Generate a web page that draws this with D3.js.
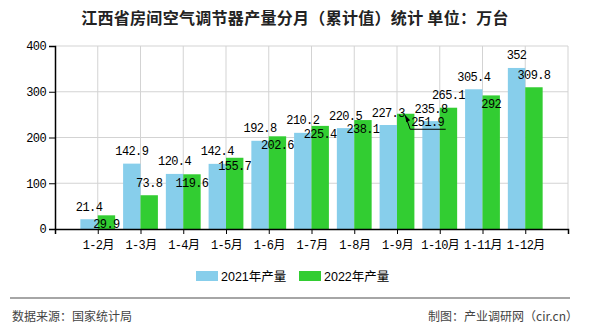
<!DOCTYPE html>
<html><head><meta charset="utf-8">
<script src="https://cdn.jsdelivr.net/npm/d3@7"></script>
<style>
html,body{margin:0;padding:0;background:#fff;}
svg{display:block;}
</style></head>
<body>
<svg id="c" width="590" height="330"></svg>
<script>
const categories = ["1-2月","1-3月","1-4月","1-5月","1-6月","1-7月","1-8月","1-9月","1-10月","1-11月","1-12月"];
const values2021 = [21.4,142.9,120.4,142.4,192.8,210.2,220.5,227.3,235.8,305.4,352];
const values2022 = [29.9,73.8,119.6,155.7,202.6,225.4,238.1,251.9,265.1,292,309.8];
const label2021 = ["21.4","142.9","120.4","142.4","192.8","210.2","220.5","227.3","235.8","305.4","352"];
const label2022 = ["29.9","73.8","119.6","155.7","202.6","225.4","238.1","251.9","265.1","292","309.8"];
const greenLabelSide = ["in","above","in","in","in","in","in","leader","above","in","above"];
const yTicks = [0,100,200,300,400];
const seriesNames = ["2021年产量","2022年产量"];
const colors = ["#87CEEB","#32CD32"];

const svg = d3.select("#c");
const L=55, R=568, T=46, B=229;
const x = d3.scaleLinear().domain([0,12]).range([L,R]);
const y = d3.scaleLinear().domain([0,400]).range([B,T]);
const bw = 17.4;
const monoFont = "'Liberation Mono','Noto Sans CJK SC',monospace";

// title
svg.append("text").attr("x",295).attr("y",24).attr("text-anchor","middle")
  .attr("font-family","'Noto Sans CJK SC',sans-serif").attr("font-size",16).attr("font-weight","bold")
  .attr("letter-spacing","0.3px").attr("fill","#222").text("江西省房间空气调节器产量分月（累计值）统计 单位：万台");

// gridlines
const g = svg.append("g");
yTicks.filter(d=>d>0).forEach(v=>{
  g.append("line").attr("x1",L).attr("x2",R).attr("y1",y(v)).attr("y2",y(v)).attr("stroke","#d3d3d3").attr("stroke-width",1);
});
d3.range(1,13).forEach(i=>{
  g.append("line").attr("x1",x(i)).attr("x2",x(i)).attr("y1",T).attr("y2",B).attr("stroke","#d3d3d3").attr("stroke-width",1);
});

// bars
svg.append("g").selectAll("rect").data(values2021).join("rect")
  .attr("x",(d,i)=>x(i+1)-bw).attr("width",bw).attr("y",d=>y(d)).attr("height",d=>B-y(d)).attr("fill",colors[0]);
svg.append("g").selectAll("rect").data(values2022).join("rect")
  .attr("x",(d,i)=>x(i+1)).attr("width",bw).attr("y",d=>y(d)).attr("height",d=>B-y(d)).attr("fill",colors[1]);

// axes
const ya = svg.append("g").attr("transform",`translate(${L},0)`)
  .call(d3.axisLeft(y).tickValues(yTicks).tickSize(6).tickPadding(3).tickFormat(d3.format("d")));
const xa = svg.append("g").attr("transform",`translate(0,${B})`)
  .call(d3.axisBottom(x).tickValues(d3.range(13)).tickSize(5).tickPadding(6).tickFormat(i=>categories[i-1]||""));
[ya,xa].forEach(a=>{
  a.select(".domain").attr("stroke","#000").attr("stroke-width",1.5);
  a.selectAll(".tick line").attr("stroke","#000");
  a.selectAll("text").attr("font-family",monoFont).attr("font-size",12).attr("fill","#000").attr("letter-spacing","-0.6px");
});

// data labels
const lab = svg.append("g").attr("font-family",monoFont).attr("font-size",12).attr("fill","#000").attr("text-anchor","middle").attr("letter-spacing","-0.6px");
values2021.forEach((v,i)=>{
  lab.append("text").attr("x",x(i+1)-bw/2).attr("y",y(v)-8.5).text(label2021[i]);
});
values2022.forEach((v,i)=>{
  const side = greenLabelSide[i];
  let cx = x(i+1)+bw/2, by;
  if(side==="above") by = y(v)-8.5;
  else by = y(v)+12.5;
  if(side==="leader"){
    cx += 22;
    const tx = x(i+1)+bw/2-0.5, ty = y(v)+1.5;
    const uy = y(v)+15.5;
    svg.append("path").attr("d",`M${cx+18},${uy}L${tx+5},${uy}L${tx},${ty}`).attr("fill","none").attr("stroke","#000").attr("stroke-width",1);
    svg.append("path").attr("d",`M${tx},${ty}L${tx+5},${ty+5}L${tx+1},${ty+7}Z`).attr("fill","#000");
  }
  lab.append("text").attr("x",cx).attr("y",by).text(label2022[i]);
});

// legend
const lg = svg.append("g").attr("font-family","'Liberation Sans','Noto Sans CJK SC',sans-serif").attr("font-size",12.5).attr("fill","#000");
const legX = [196,299];
seriesNames.forEach((n,i)=>{
  lg.append("rect").attr("x",legX[i]).attr("y",271).attr("width",22).attr("height",10).attr("fill",colors[i]);
  lg.append("text").attr("x",legX[i]+25).attr("y",281).text(n);
});

// separator and footer
svg.append("line").attr("x1",10).attr("x2",570).attr("y1",298).attr("y2",298).attr("stroke","#888").attr("stroke-width",1.5);
svg.append("text").attr("x",12).attr("y",321).attr("font-family","'Noto Sans CJK SC',sans-serif").attr("font-size",12).attr("fill","#444").text("数据来源：国家统计局");
svg.append("text").attr("x",578).attr("y",321).attr("text-anchor","end").attr("font-family","'Noto Sans CJK SC',sans-serif").attr("font-size",12).attr("fill","#444").text("制图：产业调研网（cir.cn）");
</script>
</body></html>
